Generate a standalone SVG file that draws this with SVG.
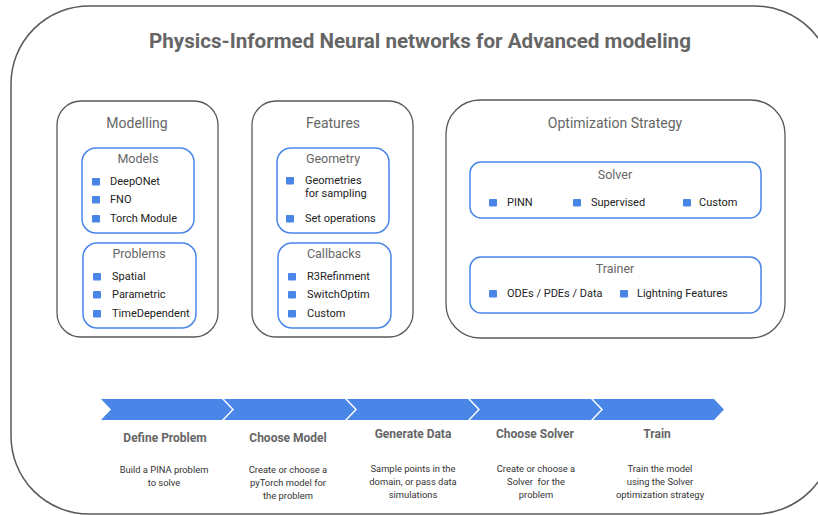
<svg xmlns="http://www.w3.org/2000/svg" width="818" height="515" viewBox="0 0 818 515">
<style>
text{font-family:Roboto,"Liberation Sans",sans-serif}
.outer{fill:#fff;stroke:#595959;stroke-width:1.5}
.sec{fill:none;stroke:#595959;stroke-width:1.3}
.sub{fill:none;stroke:#4a86e8;stroke-width:1.5}
.h1{font-size:20.6px;font-weight:bold;fill:#666;text-anchor:middle}
.h2{font-size:14px;fill:#666;text-anchor:middle}
.h3{font-size:12.5px;fill:#666;text-anchor:middle}
.it{font-size:11px;fill:#222}
.b{fill:#4a86e8}
.chev{fill:#4a86e8}
.st{font-size:12px;font-weight:bold;fill:#666;text-anchor:middle}
.ds{font-size:9.4px;fill:#333;text-anchor:middle;white-space:pre}
</style>
<defs>
<rect id="bul" width="8" height="7.5" rx="1"/>
</defs>
<rect class="outer" x="11" y="6" width="822" height="508" rx="78"/>
<text class="h1" x="420" y="48">Physics-Informed Neural networks for Advanced modeling</text>

<g id="modelling">
<rect class="sec" x="57" y="101" width="161" height="236" rx="24"/>
<text class="h2" x="137" y="128">Modelling</text>
</g>
<g id="models">
<rect class="sub" x="82" y="148" width="112" height="85" rx="14"/>
<text class="h3" x="138" y="163">Models</text>
<use href="#bul" class="b" x="92" y="178"/><text class="it" x="110" y="185">DeepONet</text>
<use href="#bul" class="b" x="92" y="196"/><text class="it" x="110" y="203">FNO</text>
<use href="#bul" class="b" x="92" y="215"/><text class="it" x="110" y="222">Torch Module</text>
</g>
<g id="problems">
<rect class="sub" x="83" y="243" width="113" height="85" rx="14"/>
<text class="h3" x="139" y="258">Problems</text>
<use href="#bul" class="b" x="93" y="273"/><text class="it" x="112" y="280">Spatial</text>
<use href="#bul" class="b" x="93" y="291"/><text class="it" x="112" y="298">Parametric</text>
<use href="#bul" class="b" x="93" y="310"/><text class="it" x="112" y="317">TimeDependent</text>
</g>

<g id="features">
<rect class="sec" x="252" y="101" width="161" height="236" rx="24"/>
<text class="h2" x="333" y="128">Features</text>
</g>
<g id="geometry">
<rect class="sub" x="277" y="148" width="112" height="85" rx="14"/>
<text class="h3" x="333" y="163">Geometry</text>
<use href="#bul" class="b" x="286" y="177"/><text class="it" x="305" y="184">Geometries</text>
<text class="it" x="305" y="197">for sampling</text>
<use href="#bul" class="b" x="286" y="215"/><text class="it" x="305" y="222">Set operations</text>
</g>
<g id="callbacks">
<rect class="sub" x="278" y="243" width="113" height="85" rx="14"/>
<text class="h3" x="334" y="258">Callbacks</text>
<use href="#bul" class="b" x="288" y="273"/><text class="it" x="307" y="280">R3Refinment</text>
<use href="#bul" class="b" x="288" y="291"/><text class="it" x="307" y="298">SwitchOptim</text>
<use href="#bul" class="b" x="288" y="310"/><text class="it" x="307" y="317">Custom</text>
</g>

<g id="optimization">
<rect class="sec" x="446" y="100" width="339" height="238" rx="34"/>
<text class="h2" x="615" y="128">Optimization Strategy</text>
</g>
<g id="solver">
<rect class="sub" x="470" y="162" width="291" height="56" rx="11"/>
<text class="h3" x="615" y="179">Solver</text>
<use href="#bul" class="b" x="489" y="199"/><text class="it" x="507" y="206">PINN</text>
<use href="#bul" class="b" x="573" y="199"/><text class="it" x="591" y="206">Supervised</text>
<use href="#bul" class="b" x="683" y="199"/><text class="it" x="699" y="206">Custom</text>
</g>
<g id="trainer">
<rect class="sub" x="470" y="257" width="291" height="56" rx="11"/>
<text class="h3" x="615" y="273">Trainer</text>
<use href="#bul" class="b" x="489" y="290"/><text class="it" x="507" y="297">ODEs / PDEs / Data</text>
<use href="#bul" class="b" x="620" y="290"/><text class="it" x="637" y="297">Lightning Features</text>
</g>

<g id="steps">
<g id="step1">
<polygon class="chev" points="101,399 222,399 232,409.5 222,420 101,420 111,409.5"/>
<text class="st" x="165" y="442">Define Problem</text>
<text class="ds" x="164" y="473">Build a PINA problem</text>
<text class="ds" x="164" y="486">to solve</text>
</g>
<g id="step2">
<polygon class="chev" points="224,399 345,399 355,409.5 345,420 224,420 234,409.5"/>
<text class="st" x="288" y="442">Choose Model</text>
<text class="ds" x="288" y="473">Create or choose a</text>
<text class="ds" x="288" y="486">pyTorch model for</text>
<text class="ds" x="288" y="499">the problem</text>
</g>
<g id="step3">
<polygon class="chev" points="347,399 468,399 478,409.5 468,420 347,420 357,409.5"/>
<text class="st" x="413" y="438">Generate Data</text>
<text class="ds" x="413" y="472">Sample points in the</text>
<text class="ds" x="413" y="485">domain, or pass data</text>
<text class="ds" x="413" y="498">simulations</text>
</g>
<g id="step4">
<polygon class="chev" points="470,399 591,399 601,409.5 591,420 470,420 480,409.5"/>
<text class="st" x="535" y="438">Choose Solver</text>
<text class="ds" x="536" y="472">Create or choose a</text>
<text class="ds" x="536" y="485">Solver  for the</text>
<text class="ds" x="536" y="498">problem</text>
</g>
<g id="step5">
<polygon class="chev" points="593,399 714,399 724,409.5 714,420 593,420 603,409.5"/>
<text class="st" x="657" y="438">Train</text>
<text class="ds" x="660" y="472">Train the model</text>
<text class="ds" x="660" y="485">using the Solver</text>
<text class="ds" x="660" y="498">optimization strategy</text>
</g>
</g>
</svg>
